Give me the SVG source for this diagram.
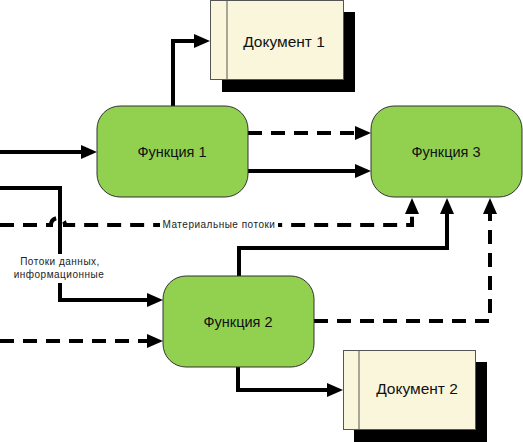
<svg xmlns="http://www.w3.org/2000/svg" width="523" height="442" viewBox="0 0 523 442">
<style>
.fn{fill:#92D050;stroke:#333;stroke-width:1}
.doc{fill:#FAF6DC;stroke:#555;stroke-width:1}
.sh{fill:#000}
.t{font-family:"Liberation Sans",Arial,sans-serif;font-size:14.5px;fill:#111;text-anchor:middle}
.td{font-family:"Liberation Sans",Arial,sans-serif;font-size:15.5px;fill:#111;text-anchor:middle}
.lb{font-family:"Liberation Sans",Arial,sans-serif;font-size:10px;fill:#222;text-anchor:middle;letter-spacing:0.5px}
.c{fill:none;stroke:#000;stroke-width:4}
.d{stroke-dasharray:14 9}
</style>
<defs>
<marker id="ah" markerUnits="userSpaceOnUse" markerWidth="18" markerHeight="16" refX="2" refY="8" orient="auto" viewBox="0 0 18 16">
<path d="M0,1 L16,8 L0,15 z" fill="#000"/>
</marker>
</defs>
<g id="connectors">
<path class="c" d="M0,152 H83" marker-end="url(#ah)"/>
<path class="c" d="M173,106 V41 H196" marker-end="url(#ah)"/>
<path class="c d" d="M248,133 H357" marker-end="url(#ah)"/>
<path class="c" d="M248,171 H357" marker-end="url(#ah)"/>
<path class="c" d="M0,188 H60 V300 H149" marker-end="url(#ah)"/>
<path class="c d" d="M0,225 H51 A7,7 0 0 1 65,225 H412 V212" marker-end="url(#ah)"/>
<path class="c" d="M239,276 V248 H447 V212" marker-end="url(#ah)"/>
<path class="c d" d="M314,321 H490 V212" marker-end="url(#ah)"/>
<path class="c d" d="M0,341 H149" marker-end="url(#ah)"/>
<path class="c" d="M238,367 V390 H329" marker-end="url(#ah)"/>
</g>
<g id="label-material">
<rect x="160" y="217" width="118" height="15" fill="#fff"/>
<text class="lb" x="219" y="228">Материальные потоки</text>
</g>
<g id="label-data">
<rect x="13" y="254" width="93" height="29" fill="#fff"/>
<text class="lb" x="60" y="265">Потоки данных,</text>
<text class="lb" x="59" y="278">информационные</text>
</g>
<g id="f1">
<rect class="fn" x="97" y="106" width="151" height="91" rx="23"/>
<text class="t" x="172" y="157">Функция 1</text>
</g>
<g id="f3">
<rect class="fn" x="371" y="106" width="151" height="91" rx="23"/>
<text class="t" x="446" y="157">Функция 3</text>
</g>
<g id="f2">
<rect class="fn" x="163" y="276" width="151" height="91" rx="23"/>
<text class="t" x="238" y="327">Функция 2</text>
</g>
<g id="doc1">
<rect class="sh" x="222" y="12" width="133" height="80"/>
<rect class="doc" x="210.5" y="0.5" width="133" height="79"/>
<line x1="227" y1="0.5" x2="227" y2="79.5" stroke="#555" stroke-width="1"/>
<text class="td" x="284" y="47">Документ 1</text>
</g>
<g id="doc2">
<rect class="sh" x="354" y="362" width="133" height="80"/>
<rect class="doc" x="343.5" y="350.5" width="132" height="79"/>
<line x1="359" y1="350.5" x2="359" y2="429.5" stroke="#555" stroke-width="1"/>
<text class="td" x="417" y="394">Документ 2</text>
</g>
</svg>
